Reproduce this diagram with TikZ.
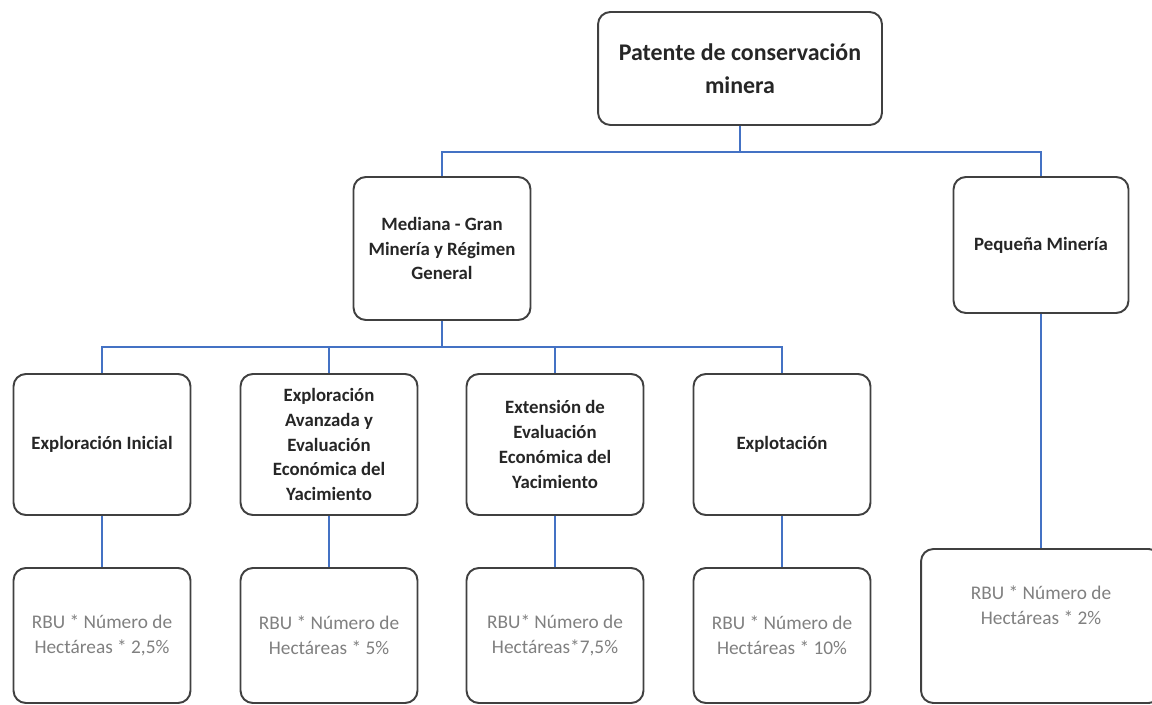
\documentclass[tikz,border=0pt]{standalone}
\usepackage{fontspec}
\setmainfont{Carlito}
\usepackage{tikz}

\definecolor{azul}{HTML}{4472C4}
\definecolor{borde}{HTML}{404040}

\tikzset{
  caja/.style={draw=borde, line width=1.1pt, rounded corners=7pt, fill=white,
    align=center, inner sep=2pt},
  titulo/.style={caja, text=black!85, font=\bfseries\fontsize{13.6}{18.7}\selectfont},
  fase/.style={caja, text=black!85, font=\bfseries\fontsize{10.7}{14.2}\selectfont,
    minimum width=3.54cm, minimum height=2.82cm},
  tarifa/.style={caja, text=black!50, font=\fontsize{11}{14.2}\selectfont,
    minimum width=3.54cm, minimum height=2.7cm},
  enlace/.style={draw=azul, line width=1.1pt}
}

\begin{document}
\begin{tikzpicture}[x=0.02cm, y=-0.02cm]
\path[use as bounding box] (0,0) rectangle (1152,705);
\clip (0,0) rectangle (1152,705);

% niveles superiores
\node[titulo, minimum width=5.68cm, minimum height=2.26cm] (raiz) at (740,68.5)
  {Patente de conservación\\minera};
\node[fase, minimum height=2.86cm] (mediana) at (442,248.5)
  {Mediana - Gran\\Minería y Régimen\\General};
\node[fase, minimum width=3.5cm, minimum height=2.72cm] (pequena) at (1041,245)
  {Pequeña Minería};

% fases
\node[fase] (f1) at (102,444.5) {Exploración Inicial};
\node[fase] (f2) at (329,444.5) {Exploración\\Avanzada y\\Evaluación\\Económica del\\Yacimiento};
\node[fase] (f3) at (555,444.5) {Extensión de\\Evaluación\\Económica del\\Yacimiento};
\node[fase] (f4) at (782,444.5) {Explotación};

% tarifas
\node[tarifa] (t1) at (102,635.5) {RBU * Número de\\Hectáreas * 2,5\%};
\node[tarifa] (t2) at (329,635.5) {RBU * Número de\\Hectáreas * 5\%};
\node[tarifa] (t3) at (555,635.5) {RBU* Número de\\Hectáreas*7,5\%};
\node[tarifa] (t4) at (782,635.5) {RBU * Número de\\Hectáreas * 10\%};
\node[tarifa, minimum width=4.8cm, minimum height=3.08cm] (tp) at (1041,626)
  {RBU * Número de\\Hectáreas * 2\%\\[0.35cm]};

% conectores
\coordinate (bus1) at (0,152);
\coordinate (bus2) at (0,347);
\draw[enlace] (raiz.south) -- (raiz.south |- bus1) -| (mediana.north);
\draw[enlace] (raiz.south |- bus1) -| (pequena.north);
\draw[enlace] (mediana.south) -- (mediana.south |- bus2);
\foreach \i in {1,...,4}{
  \draw[enlace] (mediana.south |- bus2) -| (f\i.north);
  \draw[enlace] (f\i.south) -- (t\i.north);
}
\draw[enlace] (pequena.south) -- (tp.north);
\end{tikzpicture}
\end{document}
